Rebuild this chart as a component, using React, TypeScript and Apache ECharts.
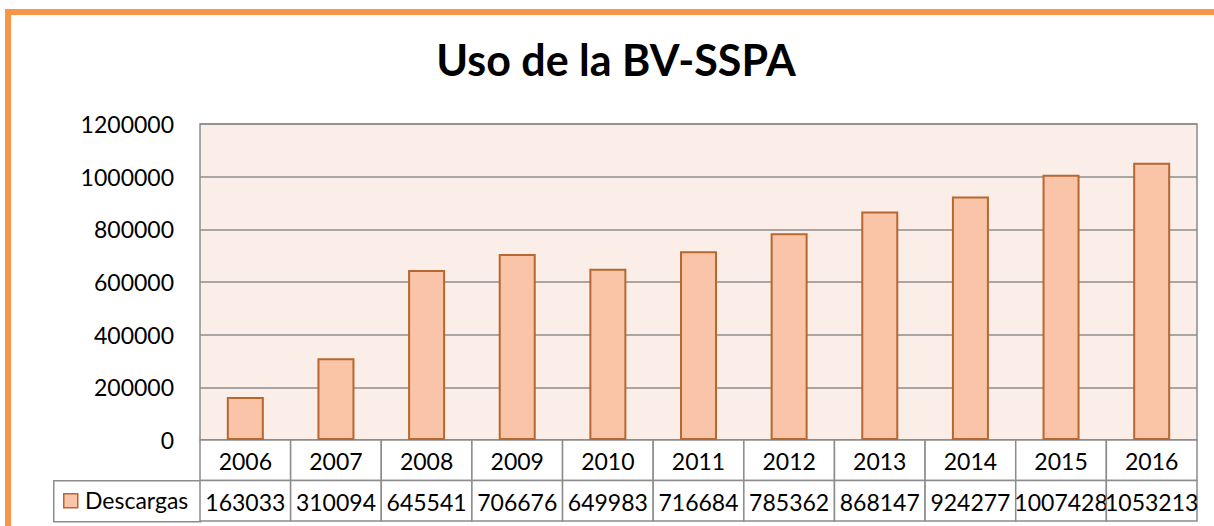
import React, { useEffect, useRef } from "react";
import * as echarts from "echarts";

const years = ["2006", "2007", "2008", "2009", "2010", "2011", "2012", "2013", "2014", "2015", "2016"];
const descargas = [163033, 310094, 645541, 706676, 649983, 716684, 785362, 868147, 924277, 1007428, 1053213];
const seriesName = "Descargas";
const titleText = "Uso de la BV-SSPA";
const rows = ["years", "values"];

const FONT = "Lato";
const BAR_FILL = "#F9C4A8";
const BAR_BORDER = "#B8672E";
const GRID_GRAY = "#8C8C8C";

export default function App() {
  const ref = useRef<HTMLDivElement>(null);
  useEffect(() => {
    document.body.style.margin = "0";
    const chart = echarts.init(ref.current!, null, { renderer: "svg" });
    const tableData: any[] = [];
    years.forEach((y, i) => {
      tableData.push({ value: [i, 0], label: y });
      tableData.push({ value: [i, 1], label: String(descargas[i]) });
    });
    chart.setOption({
      animation: false,
      backgroundColor: "#ffffff",
      title: {
        text: titleText,
        left: 611,
        textAlign: "center",
        top: 33,
        textStyle: { fontFamily: FONT, fontSize: 43, fontWeight: "bold", color: "#000" },
      },
      grid: [
        {
          left: 200, top: 124, right: 17, height: 316,
          show: true, backgroundColor: "#FBEDE8", borderColor: GRID_GRAY, borderWidth: 1.5,
        },
        { left: 200, top: 440, right: 17, height: 81 },
      ],
      xAxis: [
        {
          type: "category", gridIndex: 0, data: years,
          axisLine: { show: false }, axisTick: { show: false }, axisLabel: { show: false },
        },
        {
          type: "category", gridIndex: 1, data: years,
          axisLine: { show: false }, axisTick: { show: false }, axisLabel: { show: false },
        },
      ],
      yAxis: [
        {
          type: "value", gridIndex: 0, min: 0, max: 1200000, interval: 200000,
          axisLine: { show: false }, axisTick: { show: false },
          axisLabel: {
            color: "#000", fontFamily: FONT, fontSize: 23, margin: 26,
            formatter: (v: number) => String(v),
          },
          splitLine: { lineStyle: { color: GRID_GRAY, width: 1.5 } },
        },
        {
          type: "category", gridIndex: 1, data: rows, inverse: true,
          axisLine: { show: false }, axisTick: { show: false }, axisLabel: { show: false },
          splitLine: { show: false },
        },
      ],
      series: [
        {
          name: seriesName, type: "bar", xAxisIndex: 0, yAxisIndex: 0,
          data: descargas, barWidth: 37,
          itemStyle: { color: BAR_FILL, borderColor: BAR_BORDER, borderWidth: 2 },
        },
        {
          type: "custom", xAxisIndex: 1, yAxisIndex: 1, data: tableData,
          renderItem: (params: any, api: any) => {
            const c = api.coord([api.value(0), api.value(1)]);
            const s = api.size([1, 1]);
            const label = tableData[params.dataIndex].label;
            return {
              type: "group",
              children: [
                {
                  type: "rect",
                  shape: { x: c[0] - s[0] / 2, y: c[1] - s[1] / 2, width: s[0], height: s[1] },
                  style: { fill: "#fff", stroke: GRID_GRAY, lineWidth: 1.5 },
                },
                {
                  type: "text",
                  x: c[0], y: c[1] + 1,
                  style: {
                    text: label, fill: "#000", font: `23px ${FONT}`,
                    textAlign: "center", textVerticalAlign: "middle",
                  },
                },
              ],
            };
          },
        },
      ],
      graphic: [
        {
          type: "rect", left: 53, top: 480, shape: { width: 147, height: 41 },
          style: { fill: "#fff", stroke: GRID_GRAY, lineWidth: 1.5 },
        },
        {
          type: "rect", left: 63, top: 493, shape: { width: 14, height: 14 },
          style: { fill: BAR_FILL, stroke: BAR_BORDER, lineWidth: 1.5 },
        },
        {
          type: "text", left: 85, top: 488,
          style: { text: seriesName, fill: "#000", font: `23px ${FONT}` },
        },
        {
          type: "rect", shape: { x: 8, y: 12, width: 1400, height: 700 },
          style: { fill: "none", stroke: "#F79646", lineWidth: 6 },
        },
      ],
    });
    return () => chart.dispose();
  }, []);
  return <div ref={ref} style={{ width: 1214, height: 526 }} />;
}
